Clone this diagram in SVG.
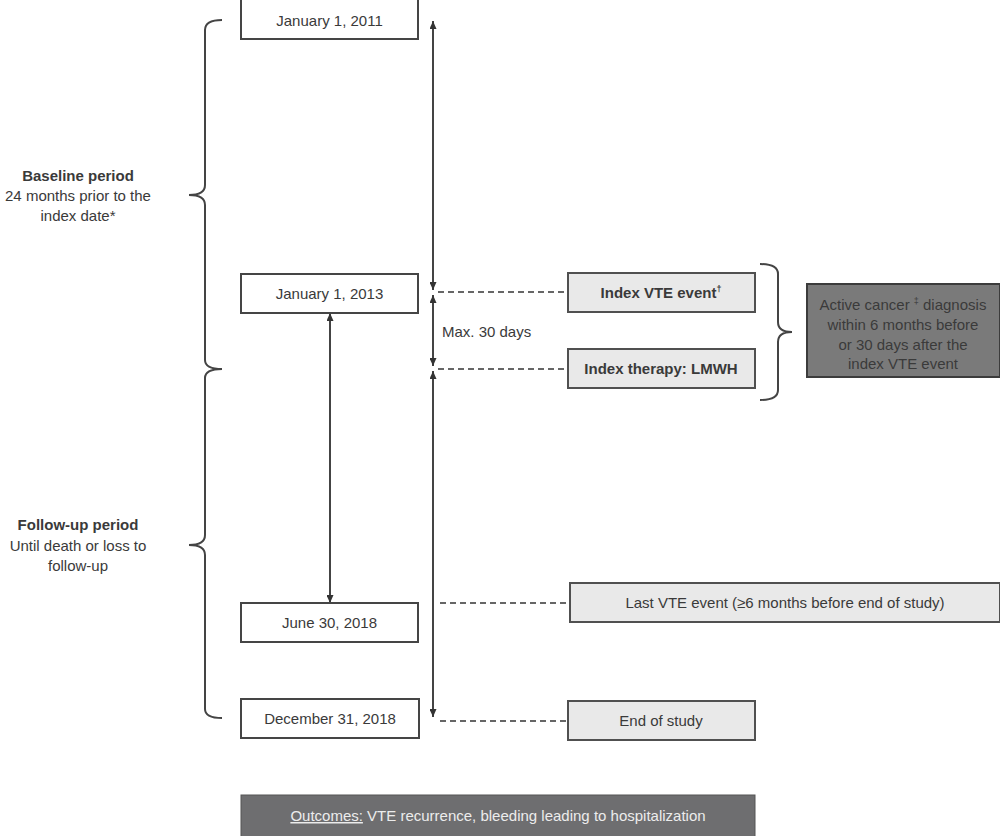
<svg xmlns="http://www.w3.org/2000/svg" width="1000" height="836" viewBox="0 0 1000 836">
<defs>
<marker id="ah" viewBox="0 0 10 10" refX="10" refY="5" markerWidth="8" markerHeight="7" orient="auto-start-reverse" markerUnits="userSpaceOnUse" preserveAspectRatio="none">
<path d="M0,0 L10,5 L0,10 z" fill="#333"/>
</marker>
<style>
text{font-family:"Liberation Sans",Arial,sans-serif;font-size:15px;fill:#3a3a3a}
.c{text-anchor:middle}
.b{font-weight:bold}
.wbox{fill:#fff;stroke:#454545;stroke-width:2}
.lbox{fill:#e9e9e9;stroke:#505050;stroke-width:2}
.dbox{fill:#7a7a7a;stroke:#3c3c3c;stroke-width:2}
.obox{fill:#6e6e70;stroke:#555;stroke-width:1}
.arr{stroke:#444;stroke-width:2;fill:none;marker-start:url(#ah);marker-end:url(#ah)}
.dash{stroke:#666;stroke-width:2;stroke-dasharray:6,4;fill:none}
.brace{stroke:#444;stroke-width:2;fill:none}
</style>
</defs>
<rect width="1000" height="836" fill="#fff"/>

<g id="connectors">
<path class="arr" d="M433,21 L433,290"/>
<path class="arr" d="M433,295 L433,366"/>
<path class="arr" d="M433,371 L433,717"/>
<path class="arr" d="M330,313 L330,603"/>
<path class="dash" d="M438,292 L568,292"/>
<path class="dash" d="M438,369 L568,369"/>
<path class="dash" d="M440,603 L570,603"/>
<path class="dash" d="M440,721 L568,721"/>
</g>

<g id="brace-baseline">
<path class="brace" d="M222,20 Q205,20 205,30 L205,185 Q205,195 189,195 Q205,195 205,205 L205,360 Q205,369 222,369"/>
<text class="c b" x="78" y="181">Baseline period</text>
<text class="c" x="78" y="201">24 months prior to the</text>
<text class="c" x="78" y="221">index date*</text>
</g>
<g id="brace-followup">
<path class="brace" d="M222,369 Q205,369 205,378 L205,535 Q205,545 189,545 Q205,545 205,555 L205,709 Q205,718 222,718"/>
<text class="c b" x="78" y="530">Follow-up period</text>
<text class="c" x="78" y="551">Until death or loss to</text>
<text class="c" x="78" y="571">follow-up</text>
</g>
<g id="brace-right">
<path class="brace" d="M760,264 Q778,264 778,274 L778,322 Q778,332 792,332 Q778,332 778,342 L778,390 Q778,400 760,400"/>
</g>

<g id="n-jan2011">
<rect class="wbox" x="241" y="-2" width="177" height="41"/>
<text class="c" x="329.5" y="26">January 1, 2011</text>
</g>
<g id="n-jan2013">
<rect class="wbox" x="241" y="274" width="177" height="39"/>
<text class="c" x="329.5" y="299">January 1, 2013</text>
</g>
<g id="n-jun2018">
<rect class="wbox" x="241" y="603" width="177" height="39"/>
<text class="c" x="329.5" y="628">June 30, 2018</text>
</g>
<g id="n-dec2018">
<rect class="wbox" x="241" y="699" width="178" height="39"/>
<text class="c" x="330" y="724">December 31, 2018</text>
</g>

<g id="label-max30">
<text x="442" y="337">Max. 30 days</text>
</g>

<g id="n-indexvte">
<rect class="lbox" x="568" y="273" width="187" height="39"/>
<text class="c b" x="661" y="298">Index VTE event<tspan font-size="9" dy="-6">†</tspan></text>
</g>
<g id="n-indextherapy">
<rect class="lbox" x="568" y="349" width="187" height="39"/>
<text class="c b" x="661" y="374">Index therapy: LMWH</text>
</g>
<g id="n-cancer">
<rect class="dbox" x="807" y="284" width="193" height="93"/>
<text class="c" x="903" y="310">Active cancer <tspan font-size="9" dy="-6">‡</tspan><tspan dy="6"> diagnosis</tspan></text>
<text class="c" x="903" y="330">within 6 months before</text>
<text class="c" x="903" y="350">or 30 days after the</text>
<text class="c" x="903" y="369">index VTE event</text>
</g>
<g id="n-lastvte">
<rect class="lbox" x="570" y="583" width="430" height="39"/>
<text class="c" x="785" y="608">Last VTE event (≥6 months before end of study)</text>
</g>
<g id="n-endstudy">
<rect class="lbox" x="568" y="701" width="187" height="39"/>
<text class="c" x="661" y="726">End of study</text>
</g>
<g id="n-outcomes">
<rect class="obox" x="241" y="795" width="514" height="45"/>
<text class="c" x="498" y="821" style="fill:#ececec"><tspan text-decoration="underline">Outcomes:</tspan> VTE recurrence, bleeding leading to hospitalization</text>
</g>
</svg>
